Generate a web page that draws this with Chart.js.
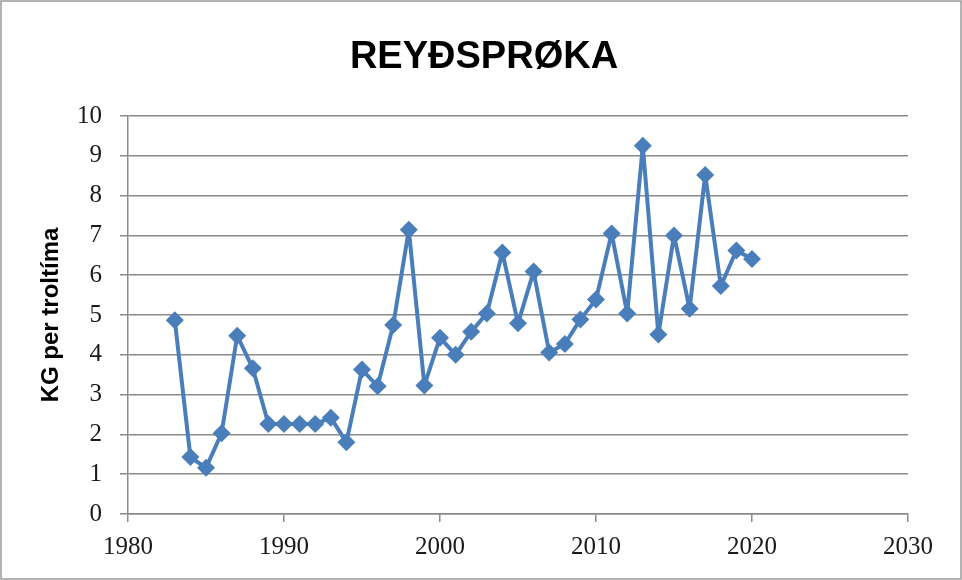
<!DOCTYPE html>
<html>
<head>
<meta charset="utf-8">
<script src="https://cdn.jsdelivr.net/npm/chart.js@4"></script>
<style>
html,body{margin:0;padding:0;background:#fff;}
#wrap{width:962px;height:580px;position:relative;}
</style>
</head>
<body>
<div id="wrap"><canvas id="c" width="962" height="580"></canvas></div>
<script>
const chartTitle = "REYÐSPRØKA";
const yAxisTitle = "KG per troltíma";
const years = [1983,1984,1985,1986,1987,1988,1989,1990,1991,1992,1993,1994,1995,1996,1997,1998,1999,2000,2001,2002,2003,2004,2005,2006,2007,2008,2009,2010,2011,2012,2013,2014,2015,2016,2017,2018,2019,2020];
const values = [4.87,1.43,1.16,2.03,4.48,3.66,2.26,2.26,2.26,2.26,2.42,1.80,3.63,3.21,4.75,7.14,3.23,4.43,4.00,4.58,5.04,6.57,4.79,6.09,4.06,4.27,4.89,5.39,7.05,5.04,9.25,4.51,7.00,5.16,8.52,5.73,6.62,6.41];
const xTicks = [1980,1990,2000,2010,2020,2030];
const yTicks = [0,1,2,3,4,5,6,7,8,9,10];

const points = years.map((yr, i) => ({x: yr, y: values[i]}));

const decorPlugin = {
  id: 'decor',
  afterDraw(chart) {
    const ctx = chart.ctx;
    ctx.save();
    ctx.strokeStyle = '#9a9a9a';
    ctx.lineWidth = 1.5;
    ctx.strokeRect(1, 1, chart.width - 2, chart.height - 2);
    ctx.fillStyle = '#000';
    ctx.font = 'bold 38px "Liberation Sans"';
    ctx.textAlign = 'center';
    ctx.textBaseline = 'middle';
    ctx.fillText(chartTitle, 484, 58);
    ctx.restore();
  }
};

new Chart(document.getElementById('c'), {
  type: 'line',
  data: {
    datasets: [{
      data: points,
      borderColor: '#4a7ebb',
      backgroundColor: '#4a7ebb',
      borderWidth: 4,
      borderJoinStyle: 'round',
      pointStyle: 'rectRot',
      pointRadius: 9,
      pointBorderWidth: 0,
      pointBackgroundColor: '#4a7ebb',
      tension: 0,
      fill: false
    }]
  },
  options: {
    responsive: false,
    animation: false,
    devicePixelRatio: 1,
    layout: { padding: { left: 0, right: 54, top: 116, bottom: 0 } },
    plugins: {
      legend: { display: false },
      tooltip: { enabled: false },
      title: { display: false }
    },
    scales: {
      x: {
        type: 'linear',
        min: 1980, max: 2030,
        afterBuildTicks(scale) { scale.ticks = xTicks.map(v => ({value: v})); },
        afterFit(scale) { scale.height = 66; },
        grid: { drawOnChartArea: false, drawTicks: true, tickLength: 8, color: '#8a8a8a', lineWidth: 1.5 },
        border: { color: '#8a8a8a', width: 1.5 },
        ticks: {
          color: '#1a1a1a',
          font: { family: 'Liberation Serif', size: 25 },
          padding: 10,
          maxRotation: 0,
          callback: v => String(v)
        }
      },
      y: {
        min: 0, max: 10,
        afterBuildTicks(scale) { scale.ticks = yTicks.map(v => ({value: v})); },
        afterFit(scale) { scale.width = 128; },
        grid: { drawTicks: true, tickLength: 8, color: '#8a8a8a', lineWidth: 1.5 },
        border: { color: '#8a8a8a', width: 1.5 },
        ticks: {
          color: '#1a1a1a',
          font: { family: 'Liberation Serif', size: 25 },
          padding: 18,
          callback: v => String(v)
        },
        title: {
          display: true,
          text: yAxisTitle,
          color: '#000',
          font: { family: 'Liberation Sans', size: 24, weight: 'bold' },
          padding: { top: 37, bottom: 0 }
        }
      }
    }
  },
  plugins: [decorPlugin]
});
</script>
</body>
</html>
